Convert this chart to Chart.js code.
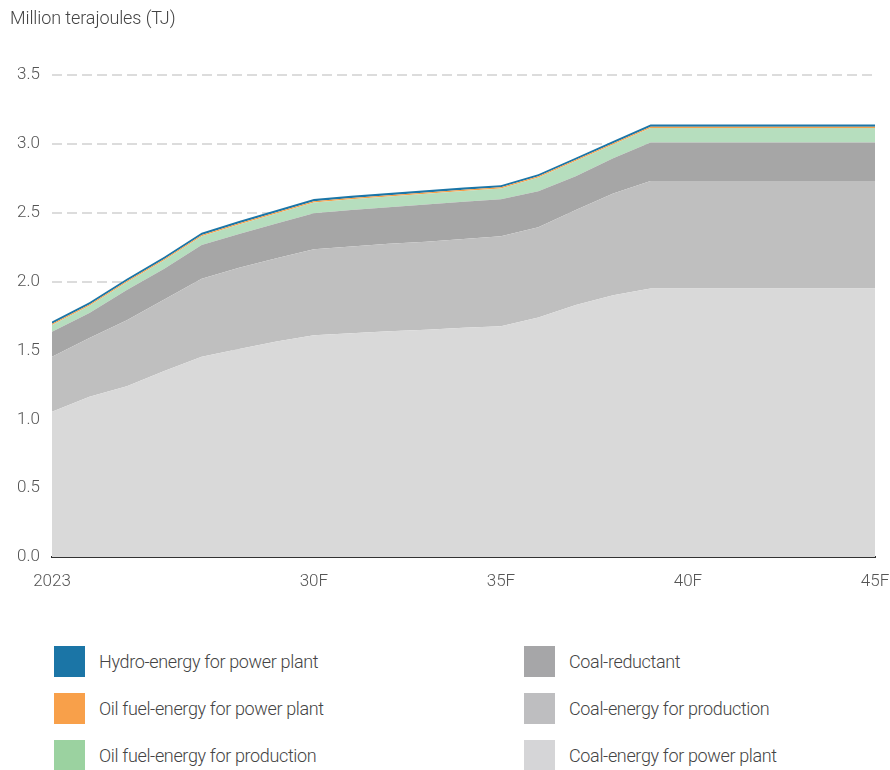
<!DOCTYPE html>
<html>
<head>
<meta charset="utf-8">
<script src="https://cdn.jsdelivr.net/npm/chart.js@4"></script>
<style>
  body { margin: 0; background: #fff; font-family: Roboto, "Liberation Sans", sans-serif; color: #4a4a4a; }
  #wrap { position: relative; width: 890px; height: 770px; overflow: hidden; }
  #ytitle { position: absolute; left: 10px; top: 7px; font-size: 18px; font-weight: 300; color: #444; line-height: 22px; white-space: nowrap; letter-spacing: -0.1px; }
  #chartBox { position: absolute; left: 0; top: 0; width: 890px; height: 597px; }
  .legcol { position: absolute; top: 638px; }
  .legitem { display: flex; align-items: center; height: 47px; }
  .sw { width: 31px; height: 31px; flex: none; }
  .lt { margin-left: 14px; font-size: 18px; font-weight: 300; color: #444; white-space: nowrap; letter-spacing: -0.35px; }
</style>
</head>
<body>
<div id="wrap">
  <div id="chartBox"><canvas id="c"></canvas></div>
  <div id="ytitle">Million terajoules (TJ)</div>
  <div class="legcol" id="legLeft" style="left:54px;"></div>
  <div class="legcol" id="legRight" style="left:524px;"></div>
</div>
<script>
// Years covered by the outlook
const years = [2023, 2024, 2025, 2026, 2027, 2028, 2029, 2030, 2031, 2032, 2033, 2034,
               2035, 2036, 2037, 2038, 2039, 2040, 2041, 2042, 2043, 2044, 2045];

// Energy demand by source, million TJ
const coalPowerPlant = [1.055, 1.164, 1.24, 1.35, 1.455, 1.51, 1.565, 1.61, 1.625, 1.64, 1.65, 1.665,
                        1.675, 1.74, 1.83, 1.90, 1.95, 1.95, 1.95, 1.95, 1.95, 1.95, 1.95];
const coalProduction = [0.40, 0.426, 0.48, 0.52, 0.565, 0.59, 0.605, 0.625, 0.63, 0.635, 0.64, 0.645,
                        0.655, 0.655, 0.69, 0.74, 0.78, 0.78, 0.78, 0.78, 0.78, 0.78, 0.78];
const coalReductant = [0.181, 0.182, 0.218, 0.224, 0.246, 0.246, 0.251, 0.261, 0.265, 0.265, 0.27, 0.27,
                       0.267, 0.26, 0.245, 0.255, 0.28, 0.28, 0.28, 0.28, 0.28, 0.28, 0.28];
const oilProduction = [0.049, 0.053, 0.057, 0.061, 0.064, 0.069, 0.074, 0.079, 0.078, 0.078, 0.078, 0.078,
                       0.078, 0.10, 0.11, 0.10, 0.105, 0.105, 0.105, 0.105, 0.105, 0.105, 0.105];
const oilPowerPlant = [0.009, 0.009, 0.009, 0.009, 0.009, 0.009, 0.009, 0.009, 0.009, 0.009, 0.009, 0.009,
                       0.009, 0.009, 0.009, 0.009, 0.009, 0.009, 0.009, 0.009, 0.009, 0.009, 0.009];
const hydroPowerPlant = [0.016, 0.016, 0.016, 0.016, 0.016, 0.016, 0.016, 0.016, 0.016, 0.016, 0.016, 0.016,
                         0.016, 0.016, 0.016, 0.016, 0.016, 0.016, 0.016, 0.016, 0.016, 0.016, 0.016];

// Axis ticks
const xTickYears = [2023, 2030, 2035, 2040, 2045];
const xTickLabels = ['2023', '30F', '35F', '40F', '45F'];
const yTicks = [0, 0.5, 1.0, 1.5, 2.0, 2.5, 3.0, 3.5];

// Series, bottom of the stack first
const series = [
  { name: 'Coal-energy for power plant', values: coalPowerPlant, fill: '#d9d9d9', swatch: '#d5d5d7' },
  { name: 'Coal-energy for production', values: coalProduction, fill: '#bfbfbf', swatch: '#bebec0' },
  { name: 'Coal-reductant', values: coalReductant, fill: '#a6a6a6', swatch: '#a6a6a8' },
  { name: 'Oil fuel-energy for production', values: oilProduction, fill: '#b6debe', swatch: '#9bd2a0' },
  { name: 'Oil fuel-energy for power plant', values: oilPowerPlant, fill: '#f8a14a', swatch: '#f8a04a' },
  { name: 'Hydro-energy for power plant', values: hydroPowerPlant, fill: '#1c76a7', swatch: '#1b75a6' }
];

const datasets = series.map((s, i) => ({
  label: s.name,
  data: years.map((yr, k) => ({ x: yr, y: s.values[k] })),
  backgroundColor: s.fill,
  borderColor: s.fill,
  borderWidth: 0,
  pointRadius: 0,
  tension: 0,
  fill: i === 0 ? 'origin' : '-1'
}));

const tickFont = { family: 'Roboto, "Liberation Sans", sans-serif', size: 17, weight: 300 };

new Chart(document.getElementById('c'), {
  type: 'line',
  data: { datasets },
  options: {
    responsive: true,
    maintainAspectRatio: false,
    animation: false,
    layout: { padding: { top: 75, right: 15, left: 0, bottom: 0 } },
    plugins: { legend: { display: false }, tooltip: { enabled: false }, title: { display: false } },
    scales: {
      x: {
        type: 'linear',
        min: years[0],
        max: years[years.length - 1],
        afterBuildTicks: (scale) => { scale.ticks = xTickYears.map(v => ({ value: v })); },
        afterFit: (scale) => {
          scale.height = 40;
          scale.paddingLeft = 0;
          scale.paddingRight = 0;
        },
        ticks: {
          autoSkip: false,
          maxRotation: 0,
          padding: 15,
          color: '#555',
          font: tickFont,
          callback: (value, index) => xTickLabels[index]
        },
        grid: { display: false, drawTicks: false },
        border: { display: true, color: '#333', width: 2 }
      },
      y: {
        stacked: true,
        min: 0,
        max: 3.5,
        afterBuildTicks: (scale) => { scale.ticks = yTicks.map(v => ({ value: v })); },
        afterFit: (scale) => { scale.width = 52; },
        ticks: {
          padding: 12,
          color: '#555',
          font: tickFont,
          callback: (value) => Number(value).toFixed(1)
        },
        grid: {
          drawTicks: false,
          lineWidth: 2,
          color: (ctx) => (ctx.tick && ctx.tick.value === 0) ? 'rgba(0,0,0,0)' : '#dcdcdc'
        },
        border: { display: false, dash: [10, 5] }
      }
    }
  }
});

// Two-column legend
function legendItem(s) {
  const row = document.createElement('div');
  row.className = 'legitem';
  const sw = document.createElement('div');
  sw.className = 'sw';
  sw.style.background = s.swatch;
  const t = document.createElement('div');
  t.className = 'lt';
  t.textContent = s.name;
  row.appendChild(sw);
  row.appendChild(t);
  return row;
}
const leftCol = document.getElementById('legLeft');
const rightCol = document.getElementById('legRight');
[series[5], series[4], series[3]].forEach(s => leftCol.appendChild(legendItem(s)));
[series[2], series[1], series[0]].forEach(s => rightCol.appendChild(legendItem(s)));
</script>
</body>
</html>
